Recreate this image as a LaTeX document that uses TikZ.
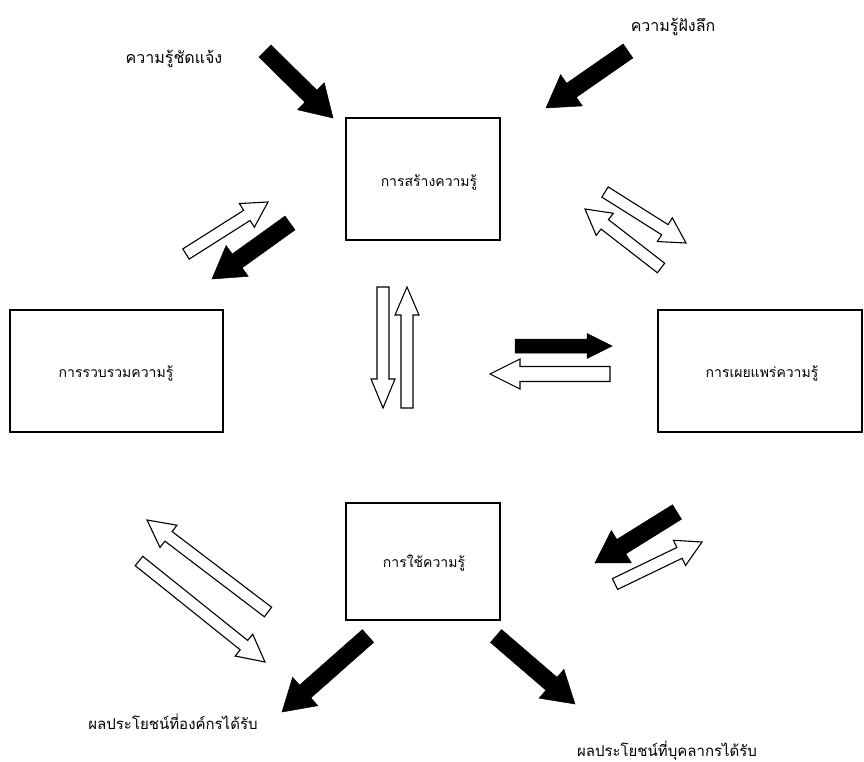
\documentclass[tikz,border=0pt]{standalone}
\usepackage{fontspec}
\newfontfamily\thaifont[Script=Thai]{Loma}
\usetikzlibrary{calc}
% #1 style, #2 tail, #3 tip, #4 shaft half width, #5 head half width, #6 head length
\newcommand\blockarr[6]{%
  \coordinate (#3-b) at ($(#3)!#6!(#2)$);
  \draw[#1] ($(#2)!#4!90:(#3)$) -- ($(#3-b)!#4!90:(#3)$) -- ($(#3-b)!#5!90:(#3)$)
    -- (#3) -- ($(#3-b)!#5!-90:(#3)$) -- ($(#3-b)!#4!-90:(#3)$)
    -- ($(#2)!#4!-90:(#3)$) -- cycle;}
\tikzset{
  box/.style={draw, line width=1.1pt, inner sep=0pt},
  boxlbl/.style={font=\thaifont\fontsize{14}{16}\selectfont, anchor=base, inner sep=0pt},
  freelbl/.style={font=\thaifont\fontsize{16}{18}\selectfont, anchor=base, inner sep=0pt},
  blkarr/.style={fill=black, draw=black, line width=0.5pt},
  whtarr/.style={fill=white, draw=black, line width=1.1pt},
}
\begin{document}
\begin{tikzpicture}[x=1pt,y=-1pt]
\useasboundingbox (0,0) rectangle (864,762);
% boxes
\node[box, minimum width=154pt, minimum height=122pt] (create) at (423,179) {};
\node[box, minimum width=213pt, minimum height=122pt] (collect) at (116.5,371) {};
\node[box, minimum width=204pt, minimum height=122pt] (spread) at (760,371) {};
\node[box, minimum width=154pt, minimum height=117pt] (use) at (423,561.5) {};
\node[boxlbl] (tcreate) at (429,186) {การสร้างความรู้};
\node[boxlbl] (tcollect) at (116,377) {การรวบรวมความรู้};
\node[boxlbl] (tspread) at (762,377) {การเผยแพร่ความรู้};
\node[boxlbl] (tuse) at (424,567) {การใช้ความรู้};
% free labels
\node[freelbl] (explicit) at (174,64) {ความรู้ชัดแจ้ง};
\node[freelbl] (tacit) at (673,32) {ความรู้ฝังลึก};
\node[freelbl, font=\thaifont\fontsize{15}{17}\selectfont] (orgben) at (173,729) {ผลประโยชน์ที่องค์กรได้รับ};
\node[freelbl, font=\thaifont\fontsize{15}{17}\selectfont] (perben) at (667,756) {ผลประโยชน์ที่บุคลากรได้รับ};
% arrow end points
\coordinate (a1t) at (265,51);  \coordinate (a1h) at (333,118);
\coordinate (a2t) at (628,51);  \coordinate (a2h) at (546,108);
\coordinate (a3t) at (186,254); \coordinate (a3h) at (268,202);
\coordinate (a4t) at (290,223); \coordinate (a4h) at (212,279);
\coordinate (a5t) at (605,192); \coordinate (a5h) at (686,243);
\coordinate (a6t) at (661,268); \coordinate (a6h) at (585,209);
\coordinate (a7t) at (383,287); \coordinate (a7h) at (383,408);
\coordinate (a8t) at (407,408); \coordinate (a8h) at (407,287);
\coordinate (a9t) at (515,346); \coordinate (a9h) at (612,346);
\coordinate (a10t) at (610,374); \coordinate (a10h) at (490,374);
\coordinate (a11t) at (268,612); \coordinate (a11h) at (147,520);
\coordinate (a12t) at (139,561); \coordinate (a12h) at (265,662);
\coordinate (a13t) at (677,512); \coordinate (a13h) at (595,563);
\coordinate (a14t) at (615,584); \coordinate (a14h) at (702,542);
\coordinate (a15t) at (368,636); \coordinate (a15h) at (282,712);
\coordinate (a16t) at (496,636); \coordinate (a16h) at (575,704);
% arrows
\blockarr{blkarr}{a1t}{a1h}{8.5pt}{19pt}{31pt}
\blockarr{blkarr}{a2t}{a2h}{8.5pt}{19pt}{31pt}
\blockarr{whtarr}{a3t}{a3h}{6pt}{14pt}{25pt}
\blockarr{blkarr}{a4t}{a4h}{8.5pt}{19pt}{31pt}
\blockarr{whtarr}{a5t}{a5h}{6pt}{14pt}{25pt}
\blockarr{whtarr}{a6t}{a6h}{6pt}{14pt}{25pt}
\blockarr{whtarr}{a7t}{a7h}{6pt}{12pt}{29pt}
\blockarr{whtarr}{a8t}{a8h}{6pt}{12pt}{28pt}
\blockarr{blkarr}{a9t}{a9h}{7pt}{12.5pt}{25pt}
\blockarr{whtarr}{a10t}{a10h}{7.5pt}{15pt}{30pt}
\blockarr{whtarr}{a11t}{a11h}{6pt}{14pt}{27pt}
\blockarr{whtarr}{a12t}{a12h}{6pt}{14pt}{27pt}
\blockarr{blkarr}{a13t}{a13h}{8.5pt}{19pt}{31pt}
\blockarr{whtarr}{a14t}{a14h}{6pt}{14pt}{25pt}
\blockarr{blkarr}{a15t}{a15h}{8.5pt}{19pt}{31pt}
\blockarr{blkarr}{a16t}{a16h}{8.5pt}{19pt}{31pt}
\end{tikzpicture}
\end{document}
